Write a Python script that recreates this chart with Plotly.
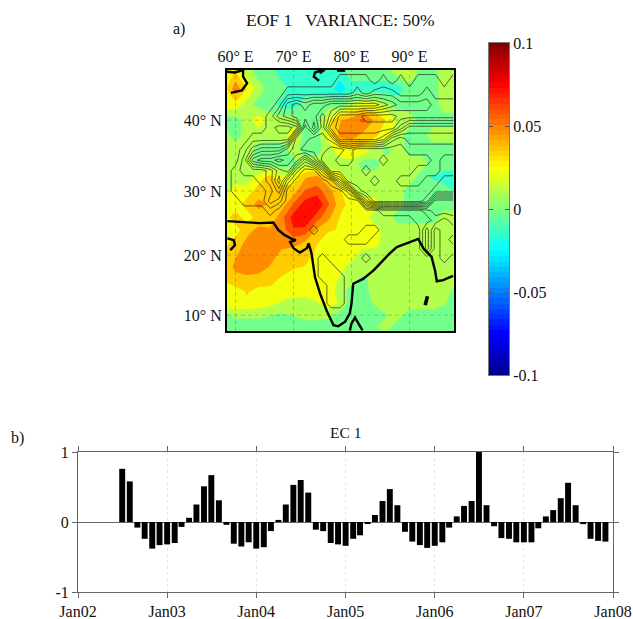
import numpy as np
import plotly.graph_objects as go

FONT = "Liberation Serif"

# ---- a) EOF field, thousandths, lat rows north to south, lon columns west to east
field_lons = list(range(58, 100, 2))
field_lats = list(range(48, 4, -2))
field_rows = [
 [22,30,10,-2,-2,-15,-15,-15,-15,-15,-15,-2,-2,-2,-2,10,18,-2,-2,10,10],
 [22,30,10,-2,-2,-15,-15,-15,-15,-15,-15,-2,-2,-2,-2,10,18,-2,-2,10,10],
 [22,50,28,10,-2,-2,-15,-15,-15,-15,-28,-15,-15,-15,-15,-15,-2,-2,-2,10,10],
 [22,25,10,-2,-2,-15,-15,-2,-2,-2,-2,10,22,20,8,-2,-2,-2,-2,10,10],
 [-2,-2,10,25,10,10,10,-2,-2,22,40,47,58,40,28,12,10,-2,-2,-2,-2],
 [10,-2,10,10,10,10,25,-2,-2,22,45,47,38,32,22,10,-2,-2,10,10,10],
 [10,10,10,-2,-2,-2,10,-2,-2,10,25,30,25,12,-2,10,-2,-2,-2,-2,-2],
 [10,10,10,-2,-2,-2,-2,10,10,10,10,10,-2,-2,10,10,10,10,-2,-2,-2],
 [10,10,10,22,35,20,22,40,45,30,22,10,10,10,10,10,10,-2,-10,-15,-15],
 [10,22,22,35,35,35,35,55,60,47,30,22,10,10,10,10,-2,-2,-2,-2,-10],
 [22,22,35,45,40,35,55,72,80,55,35,22,22,22,10,10,-2,-2,-2,-2,-2],
 [22,35,22,35,30,50,72,80,60,45,28,22,22,10,10,-2,-2,-2,-2,10,10],
 [15,22,38,44,44,47,65,62,40,30,28,22,22,22,10,10,10,10,10,10,10],
 [22,35,44,47,45,45,45,40,30,22,22,22,22,22,10,10,10,10,10,10,10],
 [35,40,47,48,46,38,35,35,25,22,22,22,10,10,10,10,10,10,10,10,10],
 [30,45,47,47,40,38,30,28,22,22,22,10,10,10,10,10,10,10,10,10,10],
 [30,35,38,36,35,25,22,22,22,22,15,8,0,10,10,10,10,10,10,10,10],
 [24,24,30,24,24,22,22,22,22,24,10,-2,-2,10,10,10,10,10,10,10,-2],
 [24,26,26,24,20,15,10,10,15,22,15,-2,-2,5,10,10,10,10,10,5,-2],
 [2,6,6,6,4,2,4,8,8,6,-2,-2,-2,-2,3,8,-2,-2,-2,-2,-2],
 [-2,-2,-2,-2,-2,-2,-2,-2,-2,-2,-2,-2,-2,3,8,-2,-2,-2,-2,-2,-2],
 [-2,-2,-2,-2,-2,-2,-2,-2,-2,-2,-2,-2,-2,-2,-2,-2,-2,-2,-2,-2,-2],
]

# ---- terrain height classes, 1.5 degree cells
terrain_lons = [58.5 + 1.5 * i for i in range(27)]
terrain_lats = [46.5 - 1.5 * j for j in range(27)]
terrain_rows = [
 "00000 00000 00000 00000 00000 00",
 "00000 00000 00011 11010 10111 01",
 "00000 00111 11111 21222 11121 11",
 "00000 01454 55666 66654 33332 22",
 "00000 13455 57522 21111 22222 22",
 "00000 10017 47322 22222 46666 66",
 "00011 11177 88733 33347 87777 77",
 "00134 44678 88998 99999 98888 88",
 "00267 78763 69988 99989 99998 99",
 "01222 35620 03999 98999 99888 99",
 "01112 36200 00159 99899 88899 88",
 "01111 24000 00002 89999 99998 88",
 "00111 32000 00000 06999 99983 33",
 "00000 10000 00000 00011 11123 33",
 "00000 00000 00000 00000 00112 12",
 "00000 00000 10000 01100 00030 11",
 "00000 00000 00001 11000 00030 10",
 "00000 00000 00000 00000 00030 11",
 "00000 00000 01000 01000 00000 10",
 "00000 00000 01100 00000 00000 00",
 "00000 00000 01110 00000 00000 00",
 "00000 00000 00110 00000 00000 00",
 "00000 00000 00110 00000 00000 00",
 "00000 00000 00110 00000 00000 00",
 "00000 00000 00000 00000 00000 00",
 "00000 00000 00000 00000 00000 00",
 "00000 00000 00000 00000 00000 00",
]

# ---- coastlines (lon, lat)
coast_main = [(58.6,25.4),(61.35,25.2),(64.2,25.1),(66.5,25.2),(67.4,24),(68.5,23.2),(69.7,22.6),(70.4,22.4),
 (69.4,22.1),(70,21.1),(71.1,20.4),(72.3,21.1),(72.6,21.9),(73.1,20.3),(73.4,18.6),(73.7,16.4),(74.6,13.6),
 (75.7,10.8),(76.9,8.3),(77.7,8.1),(78.9,8.9),(79.7,10.3),(80,12),(80.3,15.3),(82,16.1),(83.8,17.5),(85.2,18.9),
 (86.6,20.3),(87.8,21.3),(90.1,22.1),(91.5,22.6),(92.4,21.1),(93.8,19.7),(94.4,17.5),(94.7,15.7),(95.8,15.9),(97.5,16.6)]
coast_caspian = [(58.5,46.1),(59.9,46.0),(61.3,46.3),(61.3,45.5),(62,44.7),(61.1,43.8),(59.2,43.5)]
coast_aral = [(74.9,46.3),(73.7,46),(73.5,45.5),(74.4,45)]
coast_aral2 = [(75.4,46.3),(74.5,45.9)]
coast_balkhash = [(77.5,46.2),(78.9,46.2)]
coast_oman = [(58.6,22.7),(59.7,22.4),(59.9,21.6),(59.1,20.8)]
coast_lanka = [(79.7,7.4),(80,8.6),(80.6,9.6),(81.2,8.6),(81.9,7.4)]
coast_andaman = [(93.1,13.2),(92.7,11.7)]

lon_ticks = [60, 70, 80, 90]
lat_ticks = [10, 20, 30, 40]
lon_labels = ["60° E", "70° E", "80° E", "90° E"]
lat_labels = ["10° N", "20° N", "30° N", "40° N"]
lon_range = [58.53, 97.67]
lat_range = [7.3, 46.3]

# ---- colour bar
cbar_ticks = [-0.1, -0.05, 0, 0.05, 0.1]
cbar_labels = ["-0.1", "-0.05", "0", "0.05", "0.1"]
cbar_levels = list(np.linspace(-0.1, 0.1, 64))

# ---- b) expansion coefficient, Jul 2002 .. Dec 2007
ec_months = list(np.arange("2002-07-01", "2008-01-01", np.timedelta64(1, "M"), dtype="datetime64[M]").astype(str))
ec_values = [0.76,0.58,-0.08,-0.24,-0.38,-0.33,
 -0.32,-0.30,-0.07,0.06,0.25,0.51,0.67,0.31,-0.04,-0.31,-0.35,-0.29,
 -0.38,-0.36,-0.13,0.03,0.25,0.53,0.60,0.42,-0.11,-0.13,-0.30,-0.32,
 -0.34,-0.24,-0.19,-0.02,0.10,0.30,0.47,0.24,-0.14,-0.28,-0.33,-0.37,
 -0.34,-0.29,-0.08,0.08,0.23,0.30,1.00,0.24,-0.06,-0.23,-0.24,-0.29,
 -0.29,-0.29,-0.09,0.08,0.17,0.34,0.56,0.24,-0.03,-0.24,-0.27,-0.28]
ec_ticks = [f"{y}-01-01" for y in range(2002, 2009)]

JET = [[0, "rgb(0,0,143)"], [0.125, "rgb(0,0,255)"], [0.375, "rgb(0,255,255)"],
       [0.625, "rgb(255,255,0)"], [0.875, "rgb(255,0,0)"], [1, "rgb(128,0,0)"]]
W, H = 633, 619


def merc(lat):
    return np.log(np.tan(np.pi / 4 + np.radians(np.asarray(lat, dtype=float)) / 2))


def dom_x(a, b):
    return [a / W, b / W]


def dom_y(top, bottom):
    return [1 - bottom / H, 1 - top / H]


fig = go.Figure()

fig.add_trace(go.Contour(
    x=field_lons, y=merc(field_lats), z=np.array(field_rows) / 1000.0,
    colorscale=JET, zmin=-0.1, zmax=0.1, showscale=False, autocontour=False,
    contours=dict(start=-0.10875, end=0.10375, size=0.0125, coloring="fill", showlines=False),
    line=dict(width=0, smoothing=0), hoverinfo="skip", xaxis="x", yaxis="y"))

terrain = np.array([[int(c) for c in r.replace(" ", "")] for r in terrain_rows], dtype=float)
fig.add_trace(go.Contour(
    x=terrain_lons, y=merc(terrain_lats), z=terrain, showscale=False, autocontour=False,
    contours=dict(start=0.5, end=8.5, size=1, coloring="none"),
    line=dict(color="#1c1c1c", width=0.7, smoothing=0), hoverinfo="skip", xaxis="x", yaxis="y"))

for lon in lon_ticks:
    fig.add_trace(go.Scatter(x=[lon, lon], y=merc(lat_range), mode="lines", xaxis="x", yaxis="y",
                             line=dict(color="rgba(90,110,80,0.45)", width=0.8, dash="4px,3px"),
                             showlegend=False, hoverinfo="skip"))
for lat in lat_ticks:
    fig.add_trace(go.Scatter(x=lon_range, y=merc([lat, lat]), mode="lines", xaxis="x", yaxis="y",
                             line=dict(color="rgba(90,110,80,0.45)", width=0.8, dash="4px,3px"),
                             showlegend=False, hoverinfo="skip"))

for line, width in [(coast_main, 2.4), (coast_caspian, 2.4), (coast_aral, 2.4), (coast_aral2, 2),
                    (coast_balkhash, 2), (coast_oman, 2.4), (coast_lanka, 2.4), (coast_andaman, 3.6)]:
    fig.add_trace(go.Scatter(x=[p[0] for p in line], y=merc([p[1] for p in line]), mode="lines",
                             line=dict(color="black", width=width), xaxis="x", yaxis="y",
                             showlegend=False, hoverinfo="skip"))

fig.add_trace(go.Heatmap(x=[0, 1], y=cbar_levels, z=[[v, v] for v in cbar_levels], colorscale=JET,
                         zmin=-0.1, zmax=0.1, showscale=False, hoverinfo="skip", xaxis="x2", yaxis="y2"))

fig.add_trace(go.Bar(x=ec_months, y=ec_values, width=2.1e9, marker=dict(color="black", line=dict(width=0)),
                     xaxis="x3", yaxis="y3", showlegend=False, hoverinfo="skip"))

tf = dict(family=FONT, size=16, color="#111")


def note(text, px, py, size):
    return dict(text=text, x=px / W, y=1 - py / H, xref="paper", yref="paper", showarrow=False,
                xanchor="center", yanchor="middle", font=dict(family=FONT, size=size, color="#111"))


fig.update_layout(
    width=W, height=H, autosize=False, margin=dict(l=0, r=0, t=0, b=0, autoexpand=False),
    paper_bgcolor="white", plot_bgcolor="white", showlegend=False, font=dict(family=FONT, size=16, color="#111"),
    xaxis=dict(domain=dom_x(227, 454), range=lon_range, side="top", anchor="y", showgrid=False, zeroline=False,
               automargin=False, tickmode="array", tickvals=lon_ticks, ticktext=lon_labels,
               ticks="", tickfont=tf, showline=True, mirror=True, linecolor="black", linewidth=2),
    yaxis=dict(domain=dom_y(70, 331), range=list(merc(lat_range)), anchor="x", showgrid=False, zeroline=False,
               automargin=False, tickmode="array", tickvals=list(merc(lat_ticks)), ticktext=lat_labels,
               ticks="", tickfont=tf, showline=True, mirror=True, linecolor="black", linewidth=2),
    xaxis2=dict(domain=dom_x(489, 509), range=[0, 1], anchor="y2", showticklabels=False, ticks="", automargin=False,
                showgrid=False, zeroline=False, showline=True, mirror=True, linecolor="#777", linewidth=1),
    yaxis2=dict(domain=dom_y(43, 375), range=[-0.1, 0.1], anchor="x2", side="right", showgrid=False, zeroline=False,
                automargin=False, tickmode="array", tickvals=cbar_ticks, ticktext=cbar_labels, ticks="inside",
                ticklen=4, tickcolor="#555", tickfont=tf, showline=True, mirror="ticks", linecolor="#777", linewidth=1),
    xaxis3=dict(domain=dom_x(78, 613), type="date", range=["2002-01-01", "2008-01-01"], anchor="y3", automargin=False,
                tickmode="array", tickvals=ec_ticks, tickformat="%b%y", ticks="outside", ticklen=5,
                tickcolor="#666", tickfont=tf, showgrid=True, gridcolor="#e6e6e6", griddash="dot", gridwidth=1,
                zeroline=False, showline=True, mirror="ticks", linecolor="#666", linewidth=1),
    yaxis3=dict(domain=dom_y(452, 592), range=[-1, 1], anchor="x3", tickmode="array", tickvals=[-1, 0, 1],
                automargin=False, ticktext=["-1", "0", "1"], ticks="outside", ticklen=5, tickcolor="#666", tickfont=tf,
                showgrid=True, gridcolor="#666", gridwidth=1, zeroline=True, zerolinecolor="#666", zerolinewidth=1,
                showline=True, mirror="ticks", linecolor="#666", linewidth=1),
    annotations=[
        note("EOF 1   VARIANCE: 50%", 340, 20, 17.5),
        note("a)", 179, 29, 16),
        note("b)", 17, 438, 16),
        note("EC 1", 345, 432, 15.5),
    ],
)

fig.write_html("out.html", config={"displayModeBar": False},
               post_script="document.body.style.margin='0';")
